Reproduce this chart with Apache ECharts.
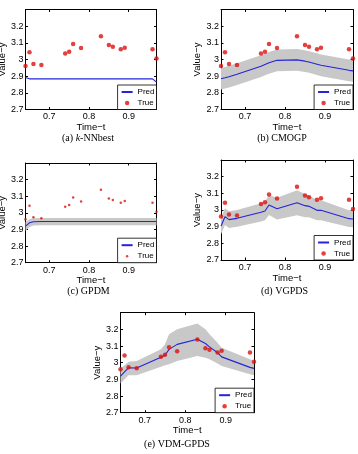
<!DOCTYPE html>
<html><head><meta charset="utf-8">
<script src="https://cdn.jsdelivr.net/npm/echarts@6/dist/echarts.min.js"></script>
<style>html,body{margin:0;padding:0;background:#fff}#c{width:358px;height:454px}</style>
</head><body><div id="c"></div>
<script>
// ---- data ----
const timeT = [0.64, 0.65, 0.66, 0.68, 0.74, 0.75, 0.76, 0.78, 0.83, 0.85, 0.86, 0.88, 0.89, 0.96, 0.97];
const trueY = [2.961, 3.043, 2.973, 2.967, 3.036, 3.047, 3.093, 3.069, 3.139, 3.087, 3.077, 3.061, 3.071, 3.061, 3.006];

const predKNN = [2.892, 2.884, 2.884, 2.884, 2.884, 2.884, 2.884, 2.884, 2.884, 2.884, 2.884, 2.884, 2.884, 2.884, 2.864];

const predCMOGP  = [2.884, 2.890, 2.897, 2.912, 2.960, 2.970, 2.980, 2.995, 2.998, 2.990, 2.985, 2.972, 2.965, 2.935, 2.932];
const upperCMOGP = [2.948, 2.955, 2.962, 2.977, 3.025, 3.035, 3.045, 3.060, 3.063, 3.055, 3.050, 3.037, 3.030, 3.000, 2.997];
const lowerCMOGP = [2.820, 2.826, 2.832, 2.847, 2.895, 2.905, 2.915, 2.930, 2.933, 2.925, 2.920, 2.907, 2.900, 2.870, 2.867];

const predGPDM  = [2.920, 2.940, 2.946, 2.948, 2.948, 2.948, 2.948, 2.948, 2.948, 2.948, 2.948, 2.948, 2.948, 2.948, 2.948];
const upperGPDM = [2.945, 2.962, 2.967, 2.969, 2.969, 2.969, 2.969, 2.969, 2.969, 2.969, 2.969, 2.969, 2.969, 2.969, 2.969];
const lowerGPDM = [2.892, 2.915, 2.924, 2.925, 2.925, 2.925, 2.925, 2.925, 2.925, 2.925, 2.925, 2.925, 2.925, 2.925, 2.925];

const predVGPDS  = [2.904, 2.960, 2.942, 2.950, 2.986, 2.994, 3.030, 3.008, 3.044, 3.026, 3.022, 2.998, 2.998, 2.948, 2.946];
const upperVGPDS = [2.954, 3.010, 2.992, 3.000, 3.041, 3.049, 3.090, 3.073, 3.119, 3.096, 3.087, 3.058, 3.058, 2.998, 2.996];
const lowerVGPDS = [2.854, 2.910, 2.892, 2.900, 2.931, 2.939, 2.970, 2.943, 2.969, 2.956, 2.957, 2.938, 2.938, 2.898, 2.896];

const predVDM  = [2.920, 2.945, 2.970, 2.968, 3.032, 3.045, 3.080, 3.110, 3.141, 3.115, 3.095, 3.060, 3.035, 2.972, 2.966];
const upperVDM = [2.965, 2.985, 3.005, 3.010, 3.080, 3.110, 3.170, 3.200, 3.235, 3.200, 3.170, 3.120, 3.090, 3.020, 3.010];
const lowerVDM = [2.875, 2.900, 2.925, 2.925, 2.975, 2.985, 2.990, 3.010, 3.040, 3.030, 3.020, 2.995, 2.980, 2.930, 2.925];

const xTicks = [0.7, 0.8, 0.9];
const yTicks = [2.7, 2.8, 2.9, 3, 3.1, 3.2];
const xRange = [0.64, 0.97];
const yRange = [2.7, 3.3];
const legendNames = ['Pred', 'True'];
const xName = 'Time\u2212t';
const yName = 'Value\u2212y';

// ---- layout / style ----
const FONT = "'Liberation Sans', Arial, Helvetica, sans-serif";
const SERIF = "'Liberation Serif', 'Times New Roman', serif";
const BLUE = '#2424d8';
const RED = '#dc1010';
const GRAY = '#c8c8c8';

const panels = [
  {grid:{left:25.5, top:9.5, width:131, height:100}, pred:predKNN, upper:null, lower:null, dot:4.5,
   cap:{x:88, y:138, text:'{n|(a) }{i|k}{n|-NNbest}'}},
  {grid:{left:221, top:9.5, width:132, height:100}, pred:predCMOGP, upper:upperCMOGP, lower:lowerCMOGP, dot:4.5,
   cap:{x:282, y:138, text:'{n|(b) CMOGP}'}},
  {grid:{left:25.5, top:163, width:131, height:99.7}, pred:predGPDM, upper:upperGPDM, lower:lowerGPDM, dot:2.5,
   cap:{x:88.5, y:291, text:'{n|(c) GPDM}'}},
  {grid:{left:221, top:160, width:132, height:100}, pred:predVGPDS, upper:upperVGPDS, lower:lowerVGPDS, dot:4.5,
   cap:{x:284.5, y:291, text:'{n|(d) VGPDS}'}},
  {grid:{left:120.5, top:312.7, width:133.5, height:100}, pred:predVDM, upper:upperVDM, lower:lowerVDM, dot:4.5,
   cap:{x:177, y:444.5, text:'{n|(e) VDM-GPDS}'}}
];

const W = 358, H = 454;
const grids = [], xAxes = [], yAxes = [], series = [], legends = [], graphics = [];
const lineStyleAxis = {color:'#000', width:1};

panels.forEach((p, i) => {
  grids.push(Object.assign({outerBoundsMode:'none', containLabel:false, show:true, backgroundColor:'#fff', borderWidth:0}, p.grid));
  const xi = xAxes.length, yi = yAxes.length;
  xAxes.push({
    type:'value', gridIndex:i, position:'bottom', min:xRange[0], max:xRange[1],
    axisLine:{show:true, onZero:false, lineStyle:lineStyleAxis},
    axisTick:{show:true, inside:true, length:2.5, customValues:xTicks, lineStyle:lineStyleAxis},
    axisLabel:{show:true, customValues:xTicks, fontSize:9, fontFamily:FONT, color:'#000', margin:3},
    splitLine:{show:false},
    name:xName, nameLocation:'middle', nameGap:8.5,
    nameTextStyle:{fontSize:9.5, fontFamily:FONT, color:'#000'}
  });
  xAxes.push({
    type:'value', gridIndex:i, position:'top', min:xRange[0], max:xRange[1],
    axisLine:{show:true, onZero:false, lineStyle:lineStyleAxis},
    axisTick:{show:true, inside:true, length:2.5, customValues:xTicks, lineStyle:lineStyleAxis},
    axisLabel:{show:false}, splitLine:{show:false}
  });
  yAxes.push({
    type:'value', gridIndex:i, position:'left', min:yRange[0], max:yRange[1],
    axisLine:{show:true, onZero:false, lineStyle:lineStyleAxis},
    axisTick:{show:true, inside:true, length:2.5, customValues:yTicks, lineStyle:lineStyleAxis},
    axisLabel:{show:true, customValues:yTicks, fontSize:9, fontFamily:FONT, color:'#000', margin:2},
    splitLine:{show:false},
    name:yName, nameLocation:'middle', nameGap:14,
    nameTextStyle:{fontSize:9.5, fontFamily:FONT, color:'#000'}
  });
  yAxes.push({
    type:'value', gridIndex:i, position:'right', min:yRange[0], max:yRange[1],
    axisLine:{show:true, onZero:false, lineStyle:lineStyleAxis},
    axisTick:{show:true, inside:true, length:2.5, customValues:yTicks, lineStyle:lineStyleAxis},
    axisLabel:{show:false}, splitLine:{show:false}
  });

  if (p.upper) {
    const up = p.upper, lo = p.lower;
    series.push({
      type:'custom', xAxisIndex:xi, yAxisIndex:yi, silent:true, z:1,
      data:[[timeT[0], lo[0]]],
      encode:{x:0, y:1},
      renderItem:function(params, api){
        const pts = [];
        for (let k = 0; k < timeT.length; k++) pts.push(api.coord([timeT[k], up[k]]));
        for (let k = timeT.length - 1; k >= 0; k--) pts.push(api.coord([timeT[k], lo[k]]));
        return {type:'polygon', shape:{points:pts}, style:{fill:GRAY, stroke:null}};
      }
    });
  }
  series.push({
    name:'Pred', type:'line', xAxisIndex:xi, yAxisIndex:yi, z:3,
    symbol:'none', showSymbol:false, animation:false,
    lineStyle:{color:BLUE, width:1.1}, itemStyle:{color:BLUE},
    data:timeT.map((t, k) => [t, p.pred[k]])
  });
  series.push({
    name:'True', type:'scatter', xAxisIndex:xi, yAxisIndex:yi, z:4,
    symbol:'circle', symbolSize:p.dot, animation:false,
    itemStyle:{color:RED},
    data:timeT.map((t, k) => [t, trueY[k]])
  });

  legends.push({
    data:[
      {name:legendNames[0], itemStyle:{color:'rgba(0,0,0,0)', opacity:0, borderWidth:0}},
      {name:legendNames[1]}
    ],
    orient:'vertical', selectedMode:false,
    right: W - (p.grid.left + p.grid.width),
    bottom: H - (p.grid.top + p.grid.height),
    backgroundColor:'#fff', borderColor:'#000', borderWidth:0.8, borderRadius:0,
    padding:[3, 2, 2.5, 3], itemGap:3, itemWidth:11, itemHeight: p.dot < 3 ? 2.5 : 4.5,
    textStyle:{fontSize:8, fontFamily:FONT, color:'#000'},
    z:10
  });

  graphics.push({
    type:'text', x:p.cap.x, y:p.cap.y, z:10,
    style:{
      text:p.cap.text, textAlign:'center', textVerticalAlign:'middle',
      rich:{
        n:{fontFamily:SERIF, fontSize:10, fill:'#000', color:'#000'},
        i:{fontFamily:SERIF, fontSize:10, fontStyle:'italic', fill:'#000', color:'#000'}
      }
    }
  });
});

const chart = echarts.init(document.getElementById('c'), null, {renderer:'canvas'});
chart.setOption({
  animation:false,
  backgroundColor:'#fff',
  grid:grids, xAxis:xAxes, yAxis:yAxes, series:series, legend:legends,
  graphic:{elements:graphics}
});
</script>
</body></html>
